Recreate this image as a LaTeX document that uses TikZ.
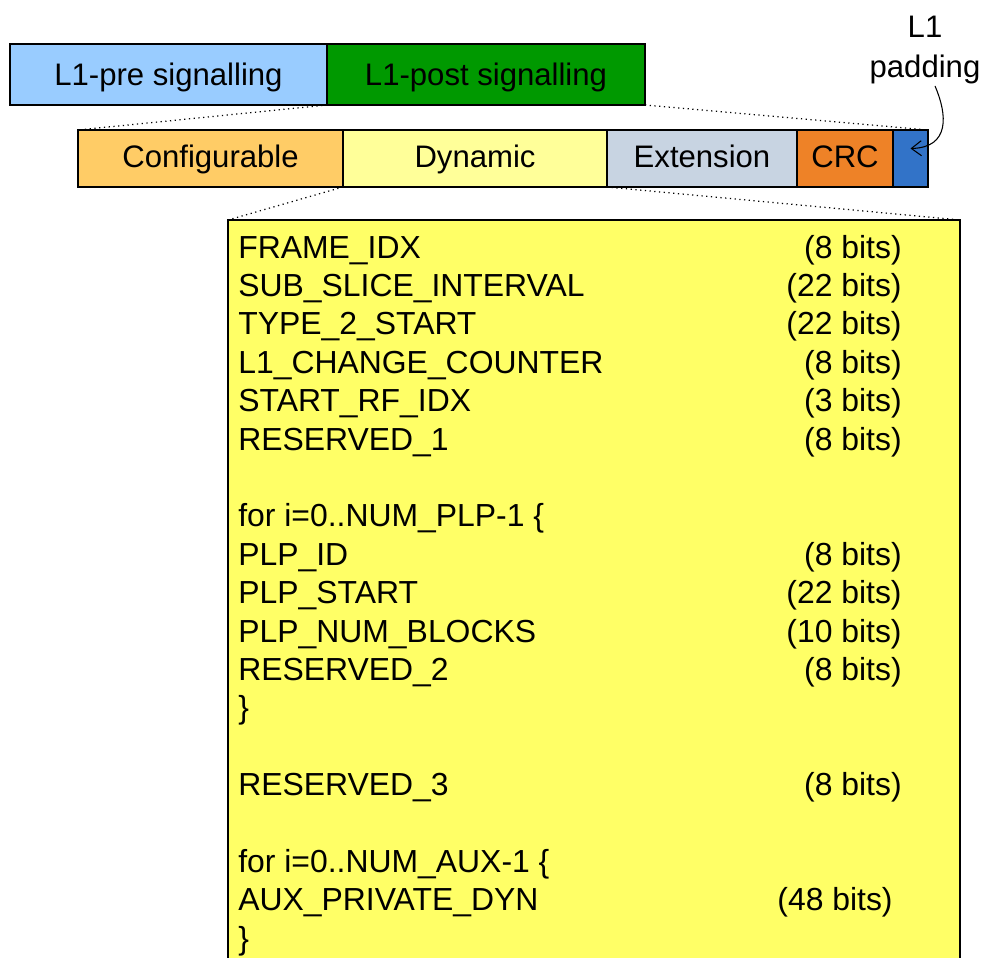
\documentclass[tikz,border=0pt]{standalone}
\usepackage{fontspec}
\setmainfont{Liberation Sans}
\usepackage{xcolor}
\usetikzlibrary{arrows.meta,positioning}

\definecolor{prebl}{HTML}{99CCFF}
\definecolor{postgr}{HTML}{009900}
\definecolor{confor}{HTML}{FFCC66}
\definecolor{dynyel}{HTML}{FFFF99}
\definecolor{extgr}{HTML}{C8D4E2}
\definecolor{crcor}{HTML}{EE8227}
\definecolor{padbl}{HTML}{3273C8}
\definecolor{boxyel}{HTML}{FFFF66}

\begin{document}
\begin{tikzpicture}[
    font=\fontsize{17.7}{22.7}\selectfont,
    top/.style={draw=black,line width=0.9pt,outer sep=0pt,inner sep=0pt,minimum height=1.22cm,text height=12pt,text depth=0pt},
    sub/.style={draw=black,line width=0.9pt,outer sep=0pt,inner sep=0pt,minimum height=1.14cm,text height=10.8pt,text depth=0pt},
    field/.style={anchor=base west,inner sep=0pt,font=\fontsize{18.15}{22.7}\selectfont},
    bits/.style={anchor=base east,inner sep=0pt,font=\fontsize{18.15}{22.7}\selectfont},
    dots/.style={dotted,line width=0.7pt,black},
    arr/.style={-{Straight Barb[length=2mm,width=3mm]},line width=0.6pt,black}
  ]
    \path[use as bounding box,clip] (0,0) rectangle (19.66,-19.14);
    % top row
    \node[top,fill=prebl,minimum width=6.34cm,anchor=north west] (pre) at (0.2,-0.88) {L1-pre signalling};
    \node[top,fill=postgr,minimum width=6.36cm,right=0pt of pre] (post) {L1-post signalling};
    % L1-post parts
    \node[sub,fill=confor,minimum width=5.30cm,anchor=north west] (conf) at (1.56,-2.6) {Configurable};
    \node[sub,fill=dynyel,minimum width=5.28cm,right=0pt of conf] (dyn) {Dynamic};
    \node[sub,fill=extgr,minimum width=3.80cm,right=0pt of dyn] (ext) {Extension};
    \node[sub,fill=crcor,minimum width=1.92cm,right=0pt of ext] (crc) {CRC};
    \node[sub,fill=padbl,minimum width=0.70cm,right=0pt of crc] (pad) {};
    \node[align=center,inner sep=1pt] (padlbl) at (18.5,-1.0) {L1\\padding};
    \draw[arr] ([xshift=0.2cm]padlbl.south) .. controls (18.95,-2.3) and (19.0,-2.95) .. ([yshift=0.2cm]pad.center);
    % dynamic fields
    \node[draw=black,fill=boxyel,line width=1pt,outer sep=0pt,minimum width=14.64cm,minimum height=15.4cm,anchor=north west] (fields) at (4.56,-4.4) {};
    \draw[dots] (post.south west) -- (conf.north west);
    \draw[dots] (post.south east) -- (pad.north east);
    \draw[dots] (dyn.south west) -- (fields.north west);
    \draw[dots] (dyn.south east) -- (fields.north east);
    \foreach \k/\txt in {0/FRAME\_IDX,1/SUB\_SLICE\_INTERVAL,2/TYPE\_2\_START,
        3/L1\_CHANGE\_COUNTER,4/START\_RF\_IDX,5/RESERVED\_1,7/for i=0..NUM\_PLP-1 \{,
        8/PLP\_ID,9/PLP\_START,10/PLP\_NUM\_BLOCKS,11/RESERVED\_2,12/\},
        14/RESERVED\_3,16/for i=0..NUM\_AUX-1 \{,17/AUX\_PRIVATE\_DYN,18/\}}
      \node[field] (f\k) at (4.76,{-5.16-0.768*\k}) {\txt};
    \foreach \k/\n in {0/8,1/22,2/22,3/8,4/3,5/8,8/8,9/22,10/10,11/8,14/8}
      \node[bits] (b\k) at (18.04,{-5.16-0.768*\k}) {(\n{} bits)};
    \node[bits] (b17) at (17.86,{-5.16-0.768*17}) {(48 bits)};
  \end{tikzpicture}
\end{document}
